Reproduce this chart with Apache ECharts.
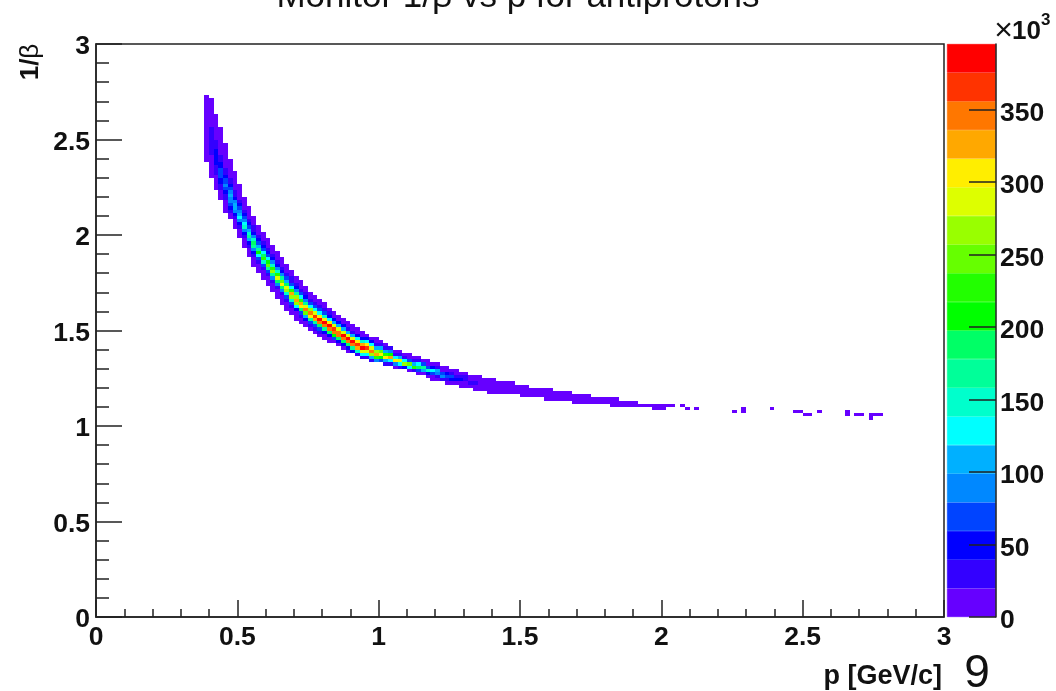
<!DOCTYPE html>
<html><head><meta charset="utf-8">
<style>html,body{margin:0;padding:0;background:#fff}#c{width:1056px;height:691px}</style>
<script src="https://cdn.jsdelivr.net/npm/echarts@6/dist/echarts.min.js"></script>
</head><body><div id="c"></div>
<script>
const titleText = 'Monitor 1/β vs p for antiprotons';
const xTitle = 'p [GeV/c]';
const pageNumber = '9';
const binsPerUnit = 60;              // histogram bins per unit, both axes
const zMax = 395;                    // colour scale top, in thousands
const zTicks = [0, 50, 100, 150, 200, 250, 300, 350];
const palette = ['#6600ff','#3300ff','#0000ff','#0044ff','#0088ff','#00b0ff','#00ffff','#00ffcc','#00ff99','#00ff66',
                 '#00ff00','#22ff00','#66ff00','#99ff00','#ddff00','#ffee00','#ffa800','#ff7700','#ff3300','#ff0000'];
// each row: p bin, first 1/beta bin, then the counts (thousands) going up the column
const cellsSteep = [
[23,143,8,10,12,14,15,15,15,14,14,13,12,12,11,10,10,9,9,8,8,7,6],
[24,138,5,6,8,10,12,15,18,20,24,28,30,30,28,25,22,20,16,14,12,10,9,8,7,6,5],
[25,134,5,7,9,12,16,22,28,36,42,48,50,46,40,33,27,21,17,14,11,9,7,6,5,4],
[26,131,6,9,14,22,32,44,56,62,65,62,52,42,32,24,18,14,11,9,7,6,5,4,3],
[27,127,4,6,9,14,24,38,55,74,85,78,62,46,34,24,18,14,10,8,6,5,4,3],
[28,125,8,14,24,40,62,85,98,100,84,64,46,32,22,16,12,9,7,5,4],
[29,122,6,10,18,32,58,90,115,105,80,56,38,26,18,13,9,7,5,4],
[30,119,5,8,14,26,52,90,130,118,88,60,40,26,18,12,9,6,4],
[31,116,4,7,12,24,50,95,150,135,98,66,42,28,18,12,8,5],
[32,113,4,7,12,24,52,105,170,150,108,70,44,28,18,12,8,5],
[33,110,3,6,10,20,45,95,160,190,140,90,56,34,20,13,8,5],
[34,108,5,8,16,34,70,130,205,170,110,68,40,24,14,8,5],
[35,106,4,8,16,34,75,150,225,185,120,72,42,24,14,8,5],
[36,104,4,7,14,32,75,160,245,200,130,76,44,25,15,9,5],
[37,102,4,7,14,32,80,170,265,220,140,80,46,26,15,9,5],
[38,100,4,7,13,30,80,180,285,235,150,86,48,28,16,9,5],
[39,98,4,6,12,28,80,190,300,250,160,90,50,28,16,9,5],
[40,96,3,5,10,22,60,150,270,290,190,110,60,32,18,10,5]
];
const cellsPeak = [
[41,95,5,10,22,60,150,260,320,230,130,70,38,20,11,5],
[42,93,4,8,18,50,130,260,325,270,160,85,44,22,12,5],
[43,92,5,10,24,70,180,300,320,230,130,70,36,18,10,5],
[44,91,6,14,40,110,240,340,280,170,90,46,22,11,5],
[45,90,8,20,60,160,300,345,260,130,65,30,14,6],
[46,89,8,20,60,170,325,360,280,130,60,28,13,6],
[47,88,8,20,60,180,345,385,300,130,60,26,12,6],
[48,87,8,18,55,170,345,385,310,140,62,26,12,5],
[49,86,8,18,55,190,350,390,310,130,55,22,8],
[50,86,18,60,200,345,365,280,110,45,18,8],
[51,85,16,55,190,340,355,280,110,42,16,7],
[52,84,14,50,190,345,380,290,110,40,15,6],
[53,83,12,45,180,350,385,290,105,38,14,6],
[54,83,40,170,350,390,290,100,34,12,5],
[55,82,35,150,320,375,310,130,46,15,6],
[56,81,28,120,290,385,330,150,50,16,6],
[57,81,30,120,280,365,300,130,42,12],
[58,80,28,110,260,345,280,125,40,12],
[59,80,85,230,325,260,115,38,12,5],
[60,80,70,200,310,240,110,34,10],
[61,79,30,110,300,220,100,30,9],
[62,79,26,130,320,210,80,20]
];
const cellsFalling = [
[63,78,8,80,300,130,25,8],
[64,78,20,130,290,100,20,6],
[65,78,50,270,130,30,8],
[66,77,14,120,245,70,14,6],
[67,77,35,225,110,28,8],
[68,76,10,70,190,120,30,8],
[69,76,16,110,170,65,14],
[70,75,5,40,150,70,16,6],
[71,74,5,14,70,130,40,9],
[72,74,5,20,90,110,30,7],
[73,74,22,95,60,14,5],
[74,73,5,25,75,50,14,5],
[75,73,8,42,60,25,7],
[76,73,10,50,35,12,5],
[77,72,5,14,40,28,8],
[78,72,6,18,35,20,6],
[79,72,8,25,18,6],
[80,71,4,10,22,14,5],
[81,71,4,12,15,10,4],
[82,71,5,14,12,5],
[83,70,3,8,14,9,4],
[84,70,3,9,12,7,3],
[85,70,4,10,10,4]
];
const cellsTail = [
[86,70,4,9,9,3],[87,70,4,8,8,3],[88,70,4,8,7,3],[89,70,6,7,3],[90,69,2,6,6,2],[91,69,2,5,5,2],
[92,69,4,5,2],[93,69,4,4,2],[94,69,3,4,2],[95,68,1,3,3,1],[96,68,1,3,3,1],[97,68,2,3,1],[98,68,2,2,1],
[99,68,2,2,1],[100,68,2,2,1],[101,67,1,2,1],[102,67,1,2,1],[103,67,1,2,1],[104,67,1,1,1],[105,67,1,1],
[106,67,1,1],[107,67,1,1],[108,67,1,1],[109,66,1,1,1],[110,66,1,1,1],[111,66,1,1],[112,66,1,1],
[113,66,1,1],[114,66,1,1],[115,66,1],[116,66,1],[117,66,1],[118,65,1,1],[119,65,1,1],[120,65,1,1],
[121,66,1],[122,66,1],[124,66,1],[125,65,1],[127,65,1],[135,64,1],[137,64,1,1],[143,65,1],
[148,64,1],[149,64,1],[150,63,1],[151,63,1],[153,64,1],[159,63,1,1],[161,63,1],[162,63,1],
[164,62,1,1],[165,63,1],[166,63,1]
];

const histData = [];
[cellsSteep, cellsPeak, cellsFalling, cellsTail].forEach(group => group.forEach(col => {
  col.slice(2).forEach((v, k) => histData.push([col[0] / binsPerUnit, (col[1] + k) / binsPerUnit, v]));
}));

const font = '"Liberation Sans", Arial, sans-serif';
const ink = '#111';
const levelWidth = zMax / palette.length;
const chart = echarts.init(document.getElementById('c'), null, {renderer: 'canvas'});

const axisBase = {
  type: 'value', min: 0, max: 3, interval: 0.5, splitLine: {show: false}, minorSplitLine: {show: false},
  axisLine: {show: true, onZero: false, lineStyle: {color: '#222', width: 1.5}}
};
const labelBase = {color: ink, fontFamily: font, fontWeight: 'bold', fontSize: 26.5, showMinLabel: true, showMaxLabel: true, hideOverlap: false};
chart.setOption({
  animation: false,
  backgroundColor: '#fff',
  grid: [
    {left: 96, top: 44, width: 848, height: 573, show: true, backgroundColor: 'transparent', borderColor: '#222', borderWidth: 1.5, containLabel: false},
    {left: 947, top: 44, width: 49, height: 573, show: false, containLabel: false}
  ],
  xAxis: [
    Object.assign({}, axisBase, {gridIndex: 0, position: 'bottom',
      axisLabel: Object.assign({}, labelBase, {margin: 7}),
      axisTick: {show: true, inside: true, length: 17, lineStyle: {color: '#222', width: 1.5}},
      minorTick: {show: true, splitNumber: 5, length: 8, lineStyle: {color: '#222', width: 1.5}}}),
    {type: 'category', gridIndex: 1, data: ['z'], show: false}
  ],
  yAxis: [
    Object.assign({}, axisBase, {gridIndex: 0, position: 'left',
      axisLabel: Object.assign({}, labelBase, {margin: 6, verticalAlign: 'top', lineHeight: 6}),
      axisTick: {show: true, inside: true, length: 26, lineStyle: {color: '#222', width: 1.5}},
      minorTick: {show: true, splitNumber: 5, length: 13, lineStyle: {color: '#222', width: 1.5}}}),
    {type: 'value', gridIndex: 1, position: 'right', min: 0, max: zMax, z: 10, splitLine: {show: false},
      axisLine: {show: true, onZero: false, lineStyle: {color: '#222', width: 1.5}},
      axisTick: {show: true, inside: true, length: 27, customValues: zTicks, lineStyle: {color: '#222', width: 1.5}},
      axisLabel: Object.assign({}, labelBase, {margin: 4, verticalAlign: 'top', lineHeight: 8, customValues: zTicks})}
  ],
  series: [{
    type: 'custom', xAxisIndex: 0, yAxisIndex: 0, coordinateSystem: 'cartesian2d', clip: true,
    data: histData, encode: {x: 0, y: 1}, silent: true, progressive: 0,
    renderItem: function (params, api) {
      const p = api.value(0), b = api.value(1), v = api.value(2);
      const a = api.coord([p, b]), c = api.coord([p + 1 / binsPerUnit, b + 1 / binsPerUnit]);
      const x0 = Math.round(a[0]), x1 = Math.round(c[0]), y0 = Math.round(c[1]), y1 = Math.round(a[1]);
      const level = Math.min(palette.length - 1, Math.floor(v / levelWidth));
      return {type: 'rect', shape: {x: x0, y: y0, width: x1 - x0, height: y1 - y0}, style: {fill: palette[level]}};
    }
  }].concat(palette.map(color => ({
    type: 'bar', xAxisIndex: 1, yAxisIndex: 1, stack: 'z', barWidth: '100%', silent: true,
    data: [levelWidth], itemStyle: {color: color, borderColor: color, borderWidth: 0.6}
  }))),
  graphic: [
    {type: 'text', x: 518, y: -3, style: {text: titleText, font: '35px ' + font, fill: ink, align: 'center', verticalAlign: 'middle'}},
    {type: 'text', x: 942, y: 677, style: {text: xTitle, font: 'bold 27px ' + font, fill: ink, align: 'right', verticalAlign: 'middle'}},
    {type: 'text', x: 31, y: 62, rotation: Math.PI / 2, style: {
      text: '{a|1/}{b|β}', align: 'center', verticalAlign: 'middle', fill: ink,
      rich: {a: {font: 'bold 26px ' + font, fill: ink}, b: {font: '26px ' + font, fill: ink}}}},
    {type: 'text', x: 1003.5, y: 31, style: {text: '×', font: '32px ' + font, fill: ink, align: 'center', verticalAlign: 'middle'}},
    {type: 'text', x: 1012, y: 32, style: {text: '10', font: 'bold 26px ' + font, fill: ink, align: 'left', verticalAlign: 'middle'}},
    {type: 'text', x: 1041, y: 20, style: {text: '3', font: 'bold 17px ' + font, fill: ink, align: 'left', verticalAlign: 'middle'}},
    {type: 'text', x: 977, y: 674, style: {text: pageNumber, font: '46px ' + font, fill: ink, align: 'center', verticalAlign: 'middle'}}
  ]
});
</script></body></html>
